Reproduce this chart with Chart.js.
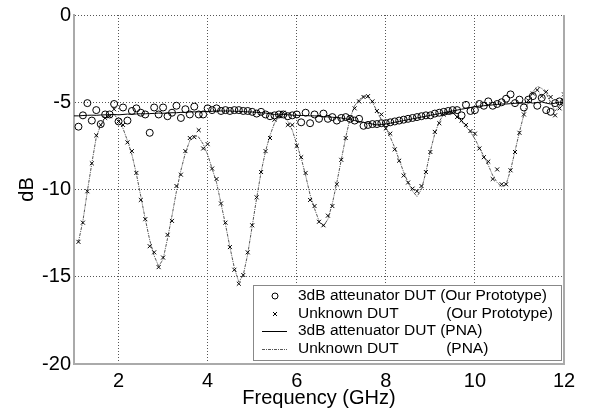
<!DOCTYPE html>
<html lang="en">
<head>
    <meta charset="UTF-8">
    <title>Frequency response</title>
    <script src="https://cdn.jsdelivr.net/npm/chart.js"></script>
    <style>
        html, body { margin: 0; padding: 0; background: #fff; }
        #wrap { width: 594px; height: 411px; }
    </style>
</head>
<body>
    <div id="wrap"><canvas id="chart"></canvas></div>
    <script>
        // Frequency points (GHz)
        const freq = [1.0,
            1.1, 1.2, 1.3, 1.4, 1.5, 1.6, 1.7, 1.8, 1.9, 2.0,
            2.1, 2.2, 2.3, 2.4, 2.5, 2.6, 2.7, 2.8, 2.9, 3.0,
            3.1, 3.2, 3.3, 3.4, 3.5, 3.6, 3.7, 3.8, 3.9, 4.0,
            4.1, 4.2, 4.3, 4.4, 4.5, 4.6, 4.7, 4.8, 4.9, 5.0,
            5.1, 5.2, 5.3, 5.4, 5.5, 5.6, 5.7, 5.8, 5.9, 6.0,
            6.1, 6.2, 6.3, 6.4, 6.5, 6.6, 6.7, 6.8, 6.9, 7.0,
            7.1, 7.2, 7.3, 7.4, 7.5, 7.6, 7.7, 7.8, 7.9, 8.0,
            8.1, 8.2, 8.3, 8.4, 8.5, 8.6, 8.7, 8.8, 8.9, 9.0,
            9.1, 9.2, 9.3, 9.4, 9.5, 9.6, 9.7, 9.8, 9.9, 10.0,
            10.1, 10.2, 10.3, 10.4, 10.5, 10.6, 10.7, 10.8, 10.9, 11.0,
            11.1, 11.2, 11.3, 11.4, 11.5, 11.6, 11.7, 11.8, 11.9, 12.0];

        // 3dB attenuator, our prototype (circles)
        const protoAtten = [null,
            -6.4, -5.75, -5.05, -6.05, -5.45, -6.25, -5.7, -5.7, -5.1, -6.1,
            -5.3, -6.05, -5.5, -5.35, -5.6, -5.7, -6.75, -5.3, -5.7, -5.3,
            -5.8, -5.6, -5.2, -5.9, -5.4, -5.7, -5.25, -5.7, -5.7, -5.35,
            -5.45, -5.35, -5.5, -5.45, -5.5, -5.45, -5.45, -5.5, -5.5, -5.55,
            -5.65, -5.55, -5.7, -5.8, -5.75, -5.7, -5.7, -5.8, -5.75, -5.7,
            -6.15, -5.6, -6.2, -5.7, -5.95, -5.65, -5.95, -5.85, -6.05, -5.9,
            -5.85, -5.95, -6.05, -5.95, -6.35, -6.3, -6.25, -6.25, -6.2, -6.2,
            -6.15, -6.1, -6.05, -6.0, -5.95, -5.9, -5.85, -5.8, -5.75, -5.75,
            -5.65, -5.6, -5.55, -5.5, -5.45, -5.45, -5.75, -5.15, -5.5, -5.45,
            -5.1, -5.2, -4.95, -5.2, -5.1, -5.0, -4.8, -4.55, -5.05, -4.85,
            -5.3, -4.85, -4.65, -5.2, -4.75, -5.45, -5.55, -5.05, -4.95, -5.0];

        // Unknown DUT, our prototype (x marks)
        const protoUnknown = [null,
            -13.0, -11.9, -10.1, -8.5, -6.9, -6.3, -5.9, -5.8, -5.4, -6.1,
            -6.3, -7.3, -7.8, -9.05, -10.6, -11.7, -13.25, -13.6, -14.45, -13.9,
            -12.6, -11.8, -9.8, -9.15, -7.8, -7.05, -7.0, -6.6, -7.65, -7.4,
            -8.8, -9.4, -10.8, -11.9, -13.3, -14.6, -15.4, -14.9, -13.6, -12.05,
            -10.45, -9.0, -7.8, -7.05, -6.0, -5.8, -5.6, -6.3, -6.3, -7.5,
            -8.15, -9.05, -10.6, -10.95, -11.85, -12.05, -11.5, -10.95, -9.7, -8.3,
            -7.05, -5.9, -5.35, -4.95, -4.7, -4.65, -4.95, -5.5, -5.7, -6.5,
            -6.8, -7.7, -8.35, -9.2, -9.6, -9.95, -10.1, -9.8, -9.0, -7.85,
            -6.7, -6.2, -5.7, -5.6, -5.6, -5.85, -6.05, -6.3, -6.65, -6.8,
            -7.65, -8.15, -8.4, -9.4, -8.85, -9.7, -9.7, -8.9, -7.85, -6.75,
            -5.7, -4.9, -4.5, -4.3, -4.65, -4.4, -4.7, -5.75, -5.35, -4.55];

        // 3dB attenuator, PNA (solid line)
        const pnaAtten = [-5.78,
            -5.78, -5.76, -5.75, -5.74, -5.75, -5.73, -5.72, -5.72, -5.7, -5.72,
            -5.7, -5.68, -5.69, -5.67, -5.66, -5.66, -5.65, -5.64, -5.62, -5.63,
            -5.62, -5.6, -5.6, -5.58, -5.58, -5.56, -5.55, -5.55, -5.54, -5.53,
            -5.52, -5.5, -5.5, -5.5, -5.5, -5.52, -5.52, -5.54, -5.55, -5.56,
            -5.58, -5.6, -5.62, -5.66, -5.7, -5.68, -5.7, -5.72, -5.74, -5.75,
            -5.76, -5.76, -5.78, -5.78, -5.8, -5.82, -5.84, -5.86, -5.88, -5.9,
            -5.95, -6.0, -6.05, -6.1, -6.15, -6.2, -6.25, -6.3, -6.28, -6.25,
            -6.2, -6.15, -6.1, -6.05, -6.0, -5.95, -5.9, -5.85, -5.8, -5.75,
            -5.7, -5.65, -5.6, -5.55, -5.5, -5.45, -5.4, -5.35, -5.3, -5.25,
            -5.22, -5.2, -5.18, -5.15, -5.12, -5.1, -5.1, -5.08, -5.06, -5.05,
            -5.05, -5.0, -5.05, -5.02, -4.98, -5.05, -5.1, -5.05, -5.0, -5.02];

        // Unknown DUT, PNA (dash-dot line)
        const pnaUnknown = [null,
            -13.0, -11.8, -10.1, -8.5, -7.0, -6.3, -5.9, -5.7, -5.7, -6.0,
            -6.5, -7.2, -8.0, -9.1, -10.4, -11.7, -12.9, -13.8, -14.4, -14.0,
            -12.8, -11.5, -10.1, -8.9, -7.9, -7.2, -6.9, -7.0, -7.4, -8.0,
            -8.8, -9.6, -10.8, -12.0, -13.3, -14.5, -15.3, -14.9, -13.7, -12.1,
            -10.5, -9.0, -7.8, -6.9, -6.2, -5.8, -5.8, -6.1, -6.6, -7.4,
            -8.2, -9.2, -10.3, -11.1, -11.8, -12.1, -11.7, -10.8, -9.6, -8.3,
            -7.0, -5.9, -5.2, -4.85, -4.65, -4.7, -5.0, -5.5, -6.0, -6.5,
            -7.0, -7.6, -8.3, -9.0, -9.6, -10.1, -10.4, -10.0, -9.0, -7.8,
            -6.8, -6.1, -5.7, -5.55, -5.6, -5.8, -6.1, -6.4, -6.7, -7.1,
            -7.6, -8.1, -8.6, -9.2, -9.6, -9.85, -9.7, -8.9, -7.8, -6.7,
            -5.7, -4.9, -4.4, -4.1, -4.2, -4.5, -5.0, -5.5, -5.2, -4.8];

        const xTicks = [2, 4, 6, 8, 10, 12];
        const yTicks = [0, -5, -10, -15, -20];

        const legendLabels = [
            '3dB atteunator DUT (Our Prototype)',
            'Unknown DUT           (Our Prototype)',
            '3dB attenuator DUT (PNA)',
            'Unknown DUT           (PNA)'
        ];

        const FONT = '"Liberation Sans", Arial, sans-serif';
        const pts = arr => freq.map((f, i) => ({ x: f, y: arr[i] }));

        // caixa da legenda + borda direita do eixo
        const boxPlugin = {
            id: 'boxPlugin',
            afterDraw(chart) {
                const { ctx, chartArea: a } = chart;
                ctx.save();
                ctx.strokeStyle = '#aaaaaa';
                ctx.lineWidth = 2;
                ctx.beginPath();
                ctx.moveTo(a.right, a.top);
                ctx.lineTo(a.right, a.bottom + 1);
                ctx.stroke();

                const bx = 253, by = 285, bw = 308, bh = 75;
                ctx.fillStyle = '#fff';
                ctx.fillRect(bx, by, bw, bh);
                ctx.strokeStyle = '#888';
                ctx.lineWidth = 1;
                ctx.strokeRect(bx + 0.5, by + 0.5, bw, bh);

                const rowY = [296, 314, 331, 349];
                ctx.font = '15.5px ' + FONT;
                ctx.textBaseline = 'middle';
                ctx.fillStyle = '#000';
                legendLabels.forEach((t, i) => {
                    const y = rowY[i];
                    ctx.strokeStyle = '#000';
                    ctx.lineWidth = 1;
                    if (i === 0) {
                        ctx.beginPath();
                        ctx.arc(275, y, 3, 0, Math.PI * 2);
                        ctx.stroke();
                    } else if (i === 1) {
                        ctx.beginPath();
                        ctx.moveTo(273, y - 2); ctx.lineTo(277, y + 2);
                        ctx.moveTo(277, y - 2); ctx.lineTo(273, y + 2);
                        ctx.stroke();
                    } else if (i === 2) {
                        ctx.beginPath();
                        ctx.moveTo(262, y + 0.5); ctx.lineTo(287, y + 0.5);
                        ctx.stroke();
                    } else {
                        ctx.strokeStyle = '#555';
                        ctx.setLineDash([3, 1, 1, 1]);
                        ctx.beginPath();
                        ctx.moveTo(262, y + 0.5); ctx.lineTo(287, y + 0.5);
                        ctx.stroke();
                        ctx.setLineDash([]);
                    }
                    ctx.fillText(t, 298, y);
                });
                ctx.restore();
            }
        };

        new Chart(document.getElementById('chart'), {
            type: 'scatter',
            data: {
                datasets: [
                    {
                        label: legendLabels[0],
                        data: pts(protoAtten),
                        pointStyle: 'circle',
                        pointRadius: 3.5,
                        borderColor: '#000',
                        backgroundColor: 'rgba(0,0,0,0)',
                        borderWidth: 1,
                        showLine: false
                    },
                    {
                        label: legendLabels[1],
                        data: pts(protoUnknown),
                        pointStyle: 'crossRot',
                        pointRadius: 2.8,
                        borderColor: '#000',
                        borderWidth: 1,
                        showLine: false
                    },
                    {
                        label: legendLabels[2],
                        data: pts(pnaAtten),
                        showLine: true,
                        pointRadius: 0,
                        borderColor: '#000',
                        borderWidth: 1,
                        tension: 0
                    },
                    {
                        label: legendLabels[3],
                        data: pts(pnaUnknown),
                        showLine: true,
                        pointRadius: 0,
                        borderColor: '#555',
                        borderWidth: 1,
                        borderDash: [3, 1, 1, 1],
                        tension: 0
                    }
                ]
            },
            options: {
                responsive: true,
                maintainAspectRatio: false,
                animation: false,
                layout: { padding: { top: 12, right: 30, left: 0, bottom: 0 } },
                plugins: { legend: { display: false }, tooltip: { enabled: false } },
                scales: {
                    x: {
                        type: 'linear',
                        min: 1,
                        max: 12,
                        afterBuildTicks: s => { s.ticks = xTicks.map(v => ({ value: v })); },
                        afterFit: s => { s.height = 47; },
                        grid: {
                            color: c => (c.tick && c.tick.value === 12) ? 'rgba(0,0,0,0)' : '#555',
                            lineWidth: 1,
                            drawTicks: false
                        },
                        border: { display: true, color: '#aaaaaa', width: 2, dash: [1, 2] },
                        ticks: { color: '#000', font: { family: FONT, size: 20 }, padding: 5, maxRotation: 0 },
                        title: { display: true, text: 'Frequency (GHz)', color: '#000', font: { family: FONT, size: 20 }, padding: { top: 0, bottom: 1 } }
                    },
                    y: {
                        type: 'linear',
                        min: -20,
                        max: 0,
                        afterBuildTicks: s => { s.ticks = yTicks.map(v => ({ value: v })); },
                        afterFit: s => { s.width = 74; },
                        grid: {
                            color: c => (c.tick && c.tick.value === -20) ? 'rgba(0,0,0,0)' : '#555',
                            lineWidth: 1,
                            drawTicks: false
                        },
                        border: { display: true, color: '#aaaaaa', width: 2, dash: [1, 2] },
                        ticks: { color: '#000', font: { family: FONT, size: 20 }, padding: 3 },
                        title: { display: true, text: 'dB', color: '#000', font: { family: FONT, size: 20 }, padding: { top: 15, bottom: 0 } }
                    }
                }
            },
            plugins: [boxPlugin]
        });
    </script>
</body>
</html>
